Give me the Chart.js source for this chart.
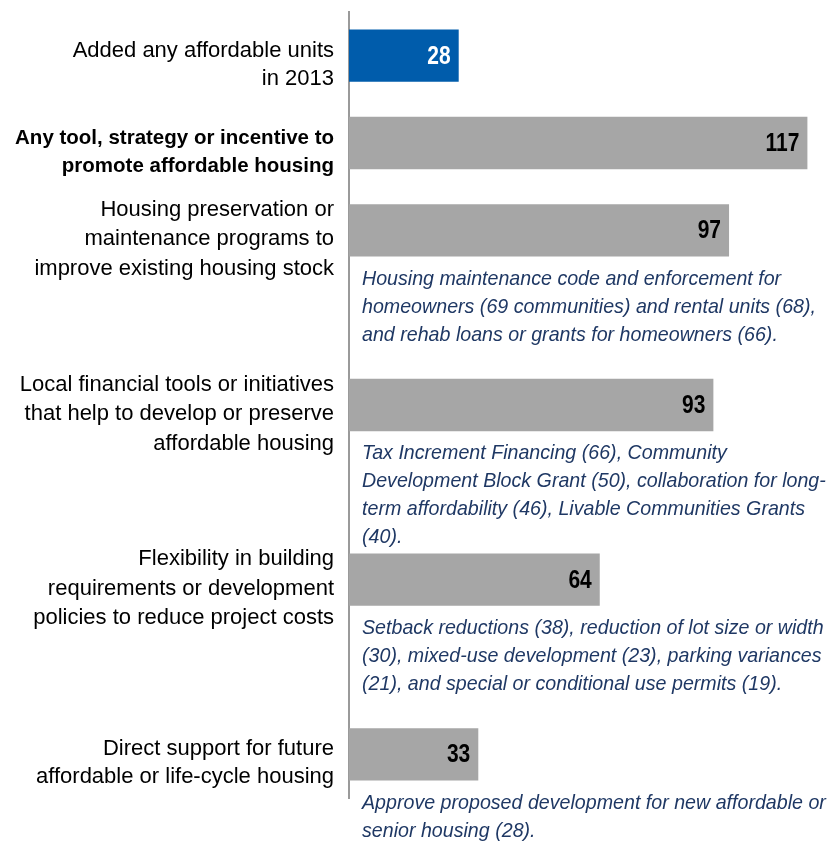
<!DOCTYPE html>
<html>
<head>
<meta charset="utf-8">
<script src="https://cdn.jsdelivr.net/npm/chart.js@4/dist/chart.umd.min.js"></script>
<style>
  html, body { margin: 0; padding: 0; background: #fff; }
  #wrap { width: 827px; height: 844px; position: relative; }
</style>
</head>
<body>
<div id="wrap"><canvas id="toolsChart"></canvas></div>
<script>
// categories, one array of lines per bar
const categories = [
  ['Added any affordable units', 'in 2013'],
  ['Any tool, strategy or incentive to', 'promote affordable housing'],
  ['Housing preservation or', 'maintenance programs to', 'improve existing housing stock'],
  ['Local financial tools or initiatives', 'that help to develop or preserve', 'affordable housing'],
  ['Flexibility in building', 'requirements or development', 'policies to reduce project costs'],
  ['Direct support for future', 'affordable or life-cycle housing']
];

// number of communities
const values = [28, 117, 97, 93, 64, 33];

// notes printed under some of the bars
const notes = [
  [],
  [],
  ['Housing maintenance code and enforcement for',
   'homeowners (69 communities) and rental units (68),',
   'and rehab loans or grants for homeowners (66).'],
  ['Tax Increment Financing (66), Community',
   'Development Block Grant (50), collaboration for long-',
   'term affordability (46), Livable Communities Grants',
   '(40).'],
  ['Setback reductions (38), reduction of lot size or width',
   '(30), mixed-use development (23), parking variances',
   '(21), and special or conditional use permits (19).'],
  ['Approve proposed development for new affordable or',
   'senior housing (28).']
];

const FONT = '"Liberation Sans", Arial, sans-serif';

// a spacer slot follows each bar that has a note (except the last one)
let slotLabels = [], slotValues = [], slotNotes = [], slotIdx = [];
categories.forEach((c, i) => {
  slotLabels.push(c); slotValues.push(values[i]); slotNotes.push(notes[i]); slotIdx.push(i);
  if (notes[i].length && i < categories.length - 1) {
    slotLabels.push(''); slotValues.push(null); slotNotes.push([]); slotIdx.push(-1);
  }
});

const barColors = slotIdx.map(i => i === 0 ? '#005cab' : '#a6a6a6');
const valColors = slotIdx.map(i => i === 0 ? '#ffffff' : '#000000');

// draw text squeezed horizontally (the original uses a narrow face)
function narrowText(ctx, txt, x, y, sx) {
  ctx.save();
  ctx.translate(x, y);
  ctx.scale(sx, 1);
  ctx.fillText(txt, 0, 0);
  ctx.restore();
}

const barTextPlugin = {
  id: 'barText',
  afterDatasetsDraw(chart) {
    const ctx = chart.ctx;
    const meta = chart.getDatasetMeta(0);
    ctx.save();
    meta.data.forEach((bar, i) => {
      if (slotValues[i] == null) return;
      // value at the end of the bar
      ctx.font = 'bold 25px ' + FONT;
      ctx.fillStyle = valColors[i];
      ctx.textAlign = 'right';
      ctx.textBaseline = 'middle';
      narrowText(ctx, slotValues[i], bar.x - 8, bar.y + 1, 0.84);
      // note under the bar
      const lines = slotNotes[i];
      if (!lines.length) return;
      ctx.font = 'italic 21px ' + FONT;
      ctx.fillStyle = '#1f3864';
      ctx.textAlign = 'left';
      ctx.textBaseline = 'alphabetic';
      const top = bar.y + bar.height / 2;
      lines.forEach((ln, k) => {
        narrowText(ctx, ln, chart.chartArea.left + 13, top + 28 + k * 28, 0.935);
      });
    });
    ctx.restore();
  }
};

new Chart('toolsChart', {
  type: 'bar',
  data: {
    labels: slotLabels,
    datasets: [{
      data: slotValues,
      backgroundColor: barColors,
      categoryPercentage: 1,
      barPercentage: 0.6
    }]
  },
  options: {
    indexAxis: 'y',
    responsive: true,
    maintainAspectRatio: false,
    animation: false,
    layout: { padding: { top: 12, bottom: 46, left: 0, right: 0 } },
    plugins: {
      legend: { display: false },
      tooltip: { enabled: false }
    },
    scales: {
      x: {
        display: false,
        min: 0,
        max: 122
      },
      y: {
        grid: { display: false, drawTicks: false },
        border: { display: true, color: '#9a9a9a', width: 2 },
        afterFit: (scale) => {
          scale.width = 349;
          scale.paddingTop = 0;
          scale.paddingBottom = 0;
        },
        ticks: {
          color: '#000',
          padding: 15,
          labelOffset: 9,
          autoSkip: false,
          font: (c) => ({
            family: FONT,
            size: c.index === 1 ? 20.5 : 22,
            lineHeight: c.index === 1 ? 1.38 : (slotLabels[c.index].length === 3 ? 1.34 : 1.27),
            weight: c.index === 1 ? 'bold' : 'normal'
          })
        }
      }
    }
  },
  plugins: [barTextPlugin]
});
</script>
</body>
</html>
